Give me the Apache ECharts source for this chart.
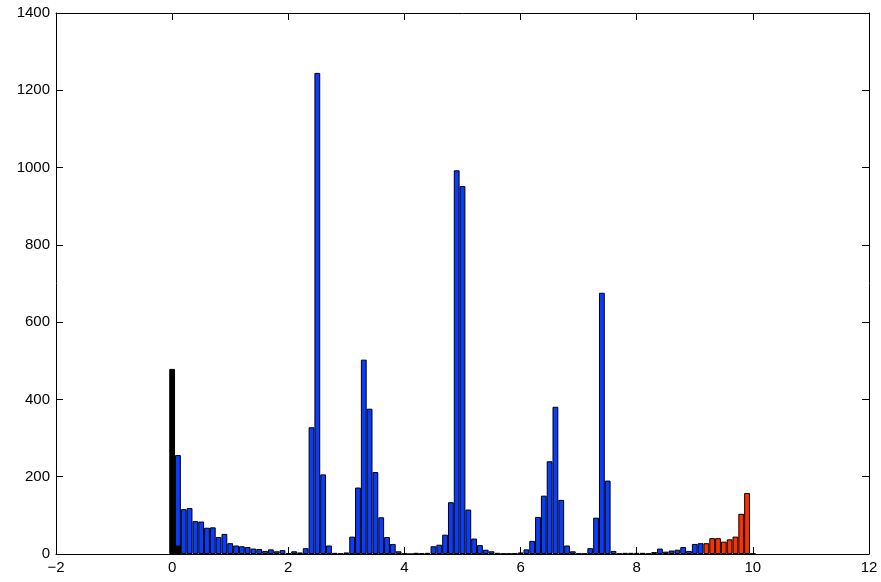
<!DOCTYPE html>
<html><head><meta charset="utf-8">
<script src="https://cdn.jsdelivr.net/npm/echarts@6/dist/echarts.min.js"></script>
<style>html,body{margin:0;padding:0;background:#fff}#c{width:881px;height:582px}</style>
</head><body><div id="c"></div>
<script>
// Axis ticks
const xTickMin = -2, xTickMax = 12, xTickStep = 2;
const yTickMin = 0, yTickMax = 1400, yTickStep = 200;

// Histogram bins (bin width 0.1, centers listed from each start)
const binWidth = 0.1;

const blackStart = 0.0;
const blackValues = [479, 22];

const blueStart = 0.1;
const blueValues = [
  256, 116, 119, 85, 84, 68, 69, 44, 52, 28,
  22, 20, 18, 14, 13, 8, 12, 7, 10, 2,
  7, 4, 15, 328, 1245, 206, 22, 3, 1, 4,
  45, 172, 503, 376, 212, 95, 44, 26, 7, 1,
  0, 3, 2, 3, 20, 24, 50, 134, 993, 952,
  115, 40, 23, 11, 7, 3, 1, 1, 2, 4,
  12, 34, 96, 151, 240, 381, 140, 22, 7, 1,
  1, 15, 94, 676, 190, 8, 1, 3, 3, 3,
  3, 1, 5, 14, 6, 9, 11, 18, 8, 26,
  28
];

const redStart = 9.2;
const redValues = [28, 41, 41, 32, 38, 45, 104, 158, 1];

function pairs(start, vals) {
  return vals.map((v, i) => [Math.round((start + i * binWidth) * 100) / 100, v]);
}

const W = 881, H = 582;
const gridL = 56, gridR = 12, gridT = 13, gridB = 28;
const plotW = W - gridL - gridR;
const barPx = plotW / (xTickMax - xTickMin) * binWidth;

const font = 'Liberation Sans, Arial, Helvetica, sans-serif';
const axisCommon = {
  axisLine: { show: true, onZero: false, lineStyle: { color: '#000', width: 1 } },
  axisTick: { show: true, inside: true, length: 7, lineStyle: { color: '#000' } },
  splitLine: { show: false }
};

const chart = echarts.init(document.getElementById('c'), null, { renderer: 'canvas' });
const barStyle = (c) => ({ color: c, borderColor: '#000', borderWidth: 1 });

chart.setOption({
  animation: false,
  backgroundColor: '#fff',
  grid: { left: gridL, right: gridR, top: gridT, bottom: gridB, containLabel: false },
  xAxis: [
    Object.assign({ type: 'value', position: 'bottom', min: xTickMin, max: xTickMax, interval: xTickStep,
      axisLabel: { color: '#000', fontSize: 15, fontFamily: font, margin: 6,
        formatter: v => (v < 0 ? '\u2212' + Math.abs(v) : String(v)) } }, axisCommon),
    Object.assign({ type: 'value', position: 'top', min: xTickMin, max: xTickMax, interval: xTickStep,
      axisLabel: { show: false } }, axisCommon)
  ],
  yAxis: [
    Object.assign({ type: 'value', position: 'left', min: yTickMin, max: yTickMax, interval: yTickStep,
      axisLabel: { color: '#000', fontSize: 15, fontFamily: font, margin: 6,
        formatter: v => String(v) } }, axisCommon),
    Object.assign({ type: 'value', position: 'right', min: yTickMin, max: yTickMax, interval: yTickStep,
      axisLabel: { show: false } }, axisCommon)
  ],
  series: [
    { type: 'bar', name: 'blue', xAxisIndex: 0, yAxisIndex: 0, data: pairs(blueStart, blueValues),
      barWidth: barPx, barGap: '-100%', itemStyle: barStyle('#0a3cff') },
    { type: 'bar', name: 'red', xAxisIndex: 0, yAxisIndex: 0, data: pairs(redStart, redValues),
      barWidth: barPx, barGap: '-100%', itemStyle: barStyle('#ff3000') },
    { type: 'bar', name: 'black', xAxisIndex: 0, yAxisIndex: 0, data: pairs(blackStart, blackValues),
      barWidth: barPx, barGap: '-100%', itemStyle: barStyle('#000') }
  ]
});
</script></body></html>
